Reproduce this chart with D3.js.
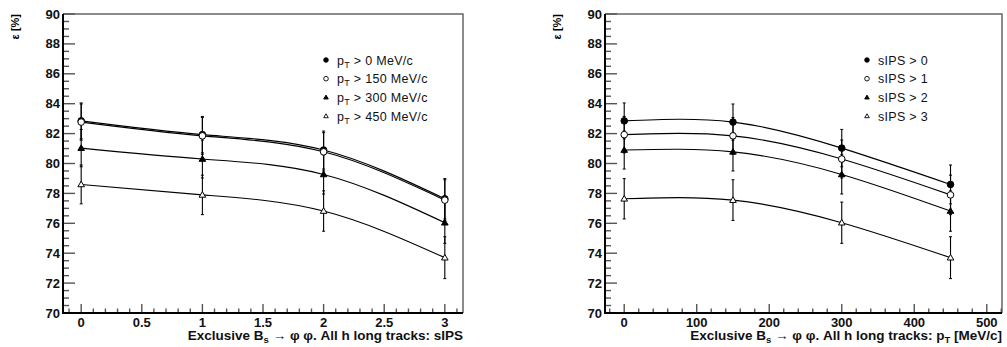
<!DOCTYPE html>
<html>
<head>
<meta charset="utf-8">
<script src="https://cdn.jsdelivr.net/npm/d3@7"></script>
<style>
  body { margin: 0; background: #fff; }
  svg { display: block; font-family: "Liberation Sans", Arial, sans-serif; }
</style>
</head>
<body>
<div id="chart"></div>
<script>
// cut values on the two x axes
var sipsCuts = [0, 1, 2, 3];
var ptCuts = [0, 150, 300, 450];

// efficiency [%] for each pT cut, versus the sIPS cut
var effPt0 = [82.85, 81.93, 80.90, 77.64];
var effPt150 = [82.77, 81.85, 80.78, 77.55];
var effPt300 = [81.03, 80.30, 79.27, 76.04];
var effPt450 = [78.60, 77.90, 76.82, 73.70];

// statistical errors [%]
var errPt0 = [1.20, 1.22, 1.27, 1.35];
var errPt150 = [1.21, 1.23, 1.28, 1.36];
var errPt300 = [1.25, 1.27, 1.31, 1.38];
var errPt450 = [1.30, 1.32, 1.35, 1.40];

var ptLabels = ["0", "150", "300", "450"];
var sipsLabels = ["0", "1", "2", "3"];
var markers = ["fcircle", "ocircle", "ftri", "otri"];

var effByPt = [effPt0, effPt150, effPt300, effPt450];
var errByPt = [errPt0, errPt150, errPt300, errPt450];

var svg = d3.select("#chart").append("svg")
    .attr("width", 1007)
    .attr("height", 347);

function drawMarker(g, type, x, y, r, sw) {
    if (type == "fcircle" || type == "ocircle") {
        g.append("circle")
            .attr("cx", x).attr("cy", y).attr("r", r)
            .attr("fill", type == "fcircle" ? "#000" : "#fff")
            .attr("stroke", "#000").attr("stroke-width", sw);
    } else {
        var s = r * 1.0;
        g.append("path")
            .attr("d", `M${x},${y - s} L${x + s},${y + s * 0.7} L${x - s},${y + s * 0.7} Z`)
            .attr("fill", type == "ftri" ? "#000" : "#fff")
            .attr("stroke", "#000").attr("stroke-width", sw);
    }
}

function drawPanel(p) {
    var g = svg.append("g");
    var x = d3.scaleLinear().domain(p.xDomain).range([p.left, p.right]);
    var y = d3.scaleLinear().domain([70, 90]).range([p.bottom, p.top]);

    // frame (top/right)
    g.append("path")
        .attr("d", `M${p.left},${p.top} H${p.right} V${p.bottom}`)
        .attr("fill", "none").attr("stroke", "#666").attr("stroke-width", 1.5);

    // y ticks
    d3.range(70, 90.01, 0.5).forEach(function (v) {
        var major = Math.abs(v / 2 - Math.round(v / 2)) < 1e-6;
        g.append("line")
            .attr("x1", p.left).attr("x2", p.left + (major ? 12 : 6))
            .attr("y1", y(v)).attr("y2", y(v))
            .attr("stroke", "#555").attr("stroke-width", 1.4);
        if (major) {
            g.append("text")
                .attr("x", p.left - 3).attr("y", y(v) + 4.5)
                .attr("text-anchor", "end")
                .attr("font-weight", "bold").attr("font-size", 13)
                .attr("fill", "#111")
                .text(v);
        }
    });

    // x ticks
    var k0 = Math.ceil(p.xDomain[0] / p.xMinorStep - 1e-6);
    var k1 = Math.floor(p.xDomain[1] / p.xMinorStep + 1e-6);
    d3.range(k0, k1 + 1).forEach(function (k) {
        var v = k * p.xMinorStep;
        var major = ((k % p.xMinorPerMajor) + p.xMinorPerMajor) % p.xMinorPerMajor == 0;
        g.append("line")
            .attr("x1", x(v)).attr("x2", x(v))
            .attr("y1", p.bottom).attr("y2", p.bottom - (major ? 9 : 4.5))
            .attr("stroke", "#555").attr("stroke-width", 1.4);
        if (major) {
            g.append("text")
                .attr("x", x(v)).attr("y", p.bottom + 14)
                .attr("text-anchor", "middle")
                .attr("font-weight", "bold").attr("font-size", 13)
                .attr("fill", "#111")
                .text(d3.format("~g")(+v.toFixed(6)));
        }
    });

    // axis lines
    g.append("path")
        .attr("d", `M${p.left},${p.top} V${p.bottom} H${p.right}`)
        .attr("fill", "none").attr("stroke", "#000").attr("stroke-width", 2);

    // curves, error bars, markers
    var line = d3.line()
        .x(d => x(d[0]))
        .y(d => y(d[1]))
        .curve(d3.curveNatural);

    p.series.forEach(function (s, i) {
        var pts = p.xs.map((xv, j) => [xv, s.eff[j], s.err[j]]);
        g.append("path")
            .datum(pts)
            .attr("d", line)
            .attr("fill", "none").attr("stroke", "#000").attr("stroke-width", 1.1);
        pts.forEach(function (d) {
            var cx = x(d[0]);
            g.append("line")
                .attr("x1", cx).attr("x2", cx)
                .attr("y1", y(d[1] - d[2])).attr("y2", y(d[1] + d[2]))
                .attr("stroke", "#000").attr("stroke-width", 1.1);
            [d[1] - d[2], d[1] + d[2]].forEach(function (e) {
                g.append("line")
                    .attr("x1", cx - 1.5).attr("x2", cx + 1.5)
                    .attr("y1", y(e)).attr("y2", y(e))
                    .attr("stroke", "#000").attr("stroke-width", 1);
            });
        });
    });
    p.series.forEach(function (s, i) {
        p.xs.forEach(function (xv, j) {
            drawMarker(g, markers[i], x(xv), y(s.eff[j]), 3.3, 1);
        });
    });

    // legend
    p.series.forEach(function (s, i) {
        var ly = p.legendY + i * 18.7;
        var lx = p.legendX;
        drawMarker(g, markers[i], lx, ly, 2.3, 0.9);
        var t = g.append("text")
            .attr("x", lx + 11).attr("y", ly + 4.5)
            .attr("font-size", 12.5).attr("letter-spacing", 0.3)
            .attr("fill", "#111");
        p.legendText(t, s.label);
    });

    // y title
    g.append("text")
        .attr("transform", `translate(${p.yTitleX},${p.top}) rotate(-90)`)
        .attr("text-anchor", "end")
        .attr("font-weight", "bold").attr("font-size", 11)
        .text("\u03b5 [%]");

    // x title
    var xt2 = g.append("text")
        .attr("x", p.right).attr("y", p.bottom + 27)
        .attr("text-anchor", "end")
        .attr("font-weight", "bold").attr("font-size", 13.5)
        .attr("fill", "#111");
    xt2.append("tspan").text("Exclusive B");
    xt2.append("tspan").attr("font-size", 9.5).attr("dy", 3).text("s");
    xt2.append("tspan").attr("dy", -3).text(" \u2192 \u03c6 \u03c6. All h long tracks: " + p.xTitleEnd);
    if (p.xTitleSub) {
        xt2.append("tspan").attr("font-size", 9.5).attr("dy", 3).text(p.xTitleSub);
        xt2.append("tspan").attr("dy", -3).text(p.xTitleTail);
    }
}

// left panel: efficiency vs sIPS cut, one series per pT cut
drawPanel({
    left: 63, right: 463, top: 14, bottom: 313,
    xDomain: [-0.15, 3.15], xMinorStep: 0.1, xMinorPerMajor: 5,
    xs: sipsCuts,
    series: effByPt.map((e, i) => ({ eff: e, err: errByPt[i], label: ptLabels[i] })),
    legendX: 326, legendY: 60,
    legendText: function (t, lab) {
        t.append("tspan").text("p");
        t.append("tspan").attr("font-size", 9).attr("dy", 3).text("T");
        t.append("tspan").attr("dy", -3).text(" > " + lab + " MeV/c");
    },
    yTitleX: 19,
    xTitleEnd: "sIPS"
});

// right panel: efficiency vs pT cut, one series per sIPS cut
drawPanel({
    left: 605, right: 1002, top: 14, bottom: 313,
    xDomain: [-26.5, 521], xMinorStep: 20, xMinorPerMajor: 5,
    xs: ptCuts,
    series: sipsCuts.map((c, i) => ({
        eff: effByPt.map(row => row[i]),
        err: errByPt.map(row => row[i]),
        label: sipsLabels[i]
    })),
    legendX: 867, legendY: 60,
    legendText: function (t, lab) {
        t.text("sIPS > " + lab);
    },
    yTitleX: 561,
    xTitleEnd: "p", xTitleSub: "T", xTitleTail: " [MeV/c]"
});
</script>
</body>
</html>
